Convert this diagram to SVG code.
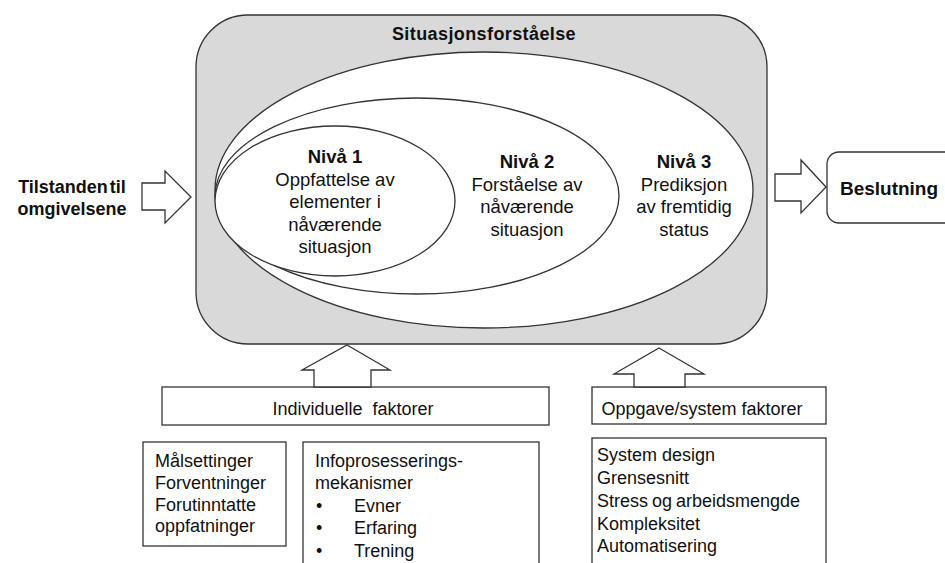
<svg xmlns="http://www.w3.org/2000/svg" width="945" height="563" viewBox="0 0 945 563">
<style>
.ln{stroke:#333;stroke-width:1.3;fill:#fff}
.t{font-family:"Liberation Sans",Arial,sans-serif;font-size:18px;fill:#111}
.n{font-size:18.5px}
.b{font-weight:bold}
.c{text-anchor:middle}
</style>
<rect width="945" height="563" fill="#fff"/>
<g id="situasjonsforstaelse">
<rect x="196" y="15" width="571" height="329" rx="52" ry="52" fill="#d9d9d9" stroke="#333" stroke-width="1.3"/>
<text class="t b c" x="484" y="40" letter-spacing="0.4">Situasjonsforståelse</text>
</g>
<g id="niva3">
<ellipse class="ln" cx="484" cy="190" rx="269" ry="138"/>
<text class="t n c" x="684" y="168"><tspan class="b">Nivå 3</tspan><tspan x="684" y="191">Prediksjon</tspan><tspan x="684" y="213">av fremtidig</tspan><tspan x="684" y="236">status</tspan></text>
</g>
<g id="niva2">
<ellipse class="ln" cx="417" cy="196" rx="202" ry="98"/>
<text class="t n c" x="527" y="168"><tspan class="b">Nivå 2</tspan><tspan x="527" y="191">Forståelse av</tspan><tspan x="527" y="213">nåværende</tspan><tspan x="527" y="236">situasjon</tspan></text>
</g>
<g id="niva1">
<ellipse class="ln" cx="335" cy="201" rx="120" ry="75"/>
<text class="t n c" x="335" y="163"><tspan class="b">Nivå 1</tspan><tspan x="335" y="186">Oppfattelse av</tspan><tspan x="335" y="208">elementer i</tspan><tspan x="335" y="231">nåværende</tspan><tspan x="335" y="253">situasjon</tspan></text>
</g>
<g id="tilstanden">
<text class="t b c" x="72" y="193" word-spacing="-3">Tilstanden til</text>
<text class="t b c" x="72" y="215">omgivelsene</text>
</g>
<g id="beslutning">
<rect class="ln" x="827" y="152" width="130" height="71" rx="12" ry="12"/>
<text class="t b c" x="889" y="195" style="font-size:19px">Beslutning</text>
</g>
<g id="individuelle">
<rect class="ln" x="162" y="387" width="387" height="38"/>
<text class="t c" x="353" y="415">Individuelle&#160; faktorer</text>
</g>
<g id="oppgave">
<rect class="ln" x="592" y="387" width="234" height="37"/>
<text class="t c" x="702" y="415">Oppgave/system faktorer</text>
</g>
<g id="malsettinger">
<rect class="ln" x="143" y="442" width="143" height="104"/>
<text class="t" x="155" y="467">Målsettinger</text>
<text class="t" x="155" y="489">Forventninger</text>
<text class="t" x="155" y="511">Forutinntatte</text>
<text class="t" x="155" y="532">oppfatninger</text>
</g>
<g id="infoprosessering">
<rect class="ln" x="303" y="442" width="236" height="130"/>
<text class="t" x="315" y="467">Infoprosesserings-</text>
<text class="t" x="315" y="489">mekanismer</text>
<text class="t" x="316" y="512">•</text>
<text class="t" x="354" y="512">Evner</text>
<text class="t" x="316" y="534">•</text>
<text class="t" x="354" y="534">Erfaring</text>
<text class="t" x="316" y="557">•</text>
<text class="t" x="354" y="557">Trening</text>
</g>
<g id="systemfaktorer">
<rect class="ln" x="592" y="438" width="234" height="134"/>
<text class="t" x="597" y="461">System design</text>
<text class="t" x="597" y="484">Grensesnitt</text>
<text class="t" x="597" y="507" word-spacing="-1">Stress og arbeidsmengde</text>
<text class="t" x="597" y="530">Kompleksitet</text>
<text class="t" x="597" y="552">Automatisering</text>
</g>
<g id="connectors">
<polygon class="ln" points="142,183 165,183 165,171 191,197 165,223 165,210 142,210"/>
<polygon class="ln" points="775,174 801,174 801,160 826,187 801,213 801,201 775,201"/>
<polygon class="ln" points="347,345 390,370 371,370 371,387 314,387 314,370 302,370"/>
<polygon class="ln" points="659,348 704,374 685,374 685,387 634,387 634,374 614,374"/>
</g>
</svg>
